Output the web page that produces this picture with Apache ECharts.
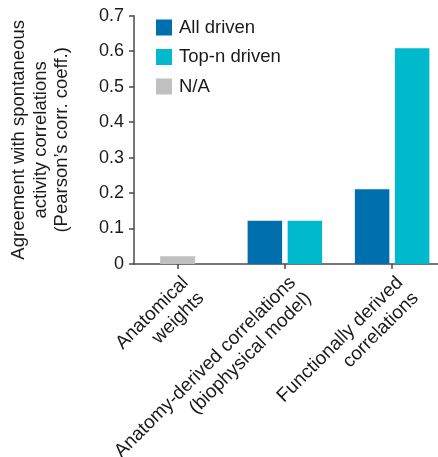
<!DOCTYPE html>
<html>
<head>
<meta charset="utf-8">
<script src="https://cdn.jsdelivr.net/npm/echarts@6/dist/echarts.min.js"></script>
<style>
html,body{margin:0;padding:0;background:#fff;}
#chart{width:438px;height:457px;}
</style>
</head>
<body>
<div id="chart"></div>
<script>
var categories = ['Anatomical\nweights', 'Anatomy-derived correlations\n(biophysical model)', 'Functionally derived\ncorrelations'];
var allDriven = [null, 0.122, 0.211];
var topNDriven = [null, 0.122, 0.608];
var naValues = [0.022, null, null];
var yTicks = [0, 0.1, 0.2, 0.3, 0.4, 0.5, 0.6, 0.7];
var yName = 'Agreement with spontaneous\nactivity correlations\n(Pearson\u2019s corr. coeff.)';

var FONT = '"Liberation Sans", Arial, Helvetica, sans-serif';
var AXIS = '#4a4a4a';
var TXT = '#1a1a1a';

var chart = echarts.init(document.getElementById('chart'), null, {renderer: 'canvas'});
chart.setOption({
  animation: false,
  backgroundColor: '#ffffff',
  textStyle: {fontFamily: FONT},
  legend: {
    orient: 'vertical',
    left: 156,
    top: 18,
    padding: 0,
    icon: 'rect',
    itemWidth: 16,
    itemHeight: 16,
    itemGap: 10.5,
    data: ['All driven', 'Top-n driven', 'N/A'],
    textStyle: {fontSize: 18.5, color: TXT, fontFamily: FONT, padding: [0, 0, 0, 2]}
  },
  grid: [
    {left: 124, width: 321.75, top: 15.7, bottom: 193, containLabel: false, outerBoundsMode: 'none'},
    {left: 134, right: 0, top: 15.7, bottom: 193, containLabel: false, outerBoundsMode: 'none'}
  ],
  xAxis: [
    {
      type: 'category', gridIndex: 0, data: categories,
      axisLine: {show: false},
      axisTick: {show: true, alignWithLabel: true, length: 5, lineStyle: {color: AXIS, width: 1.5}},
      axisLabel: {
        interval: 0, rotate: 45, margin: 8, align: 'right', verticalAlign: 'top',
        fontSize: 19, lineHeight: 22, color: TXT, fontFamily: FONT, hideOverlap: false
      },
      splitLine: {show: false}
    },
    {
      type: 'category', gridIndex: 0, data: categories, show: false
    },
    {
      type: 'value', gridIndex: 1, min: 0, max: 1,
      axisLine: {show: true, onZero: false, lineStyle: {color: AXIS, width: 1.5}},
      axisTick: {show: false}, axisLabel: {show: false}, splitLine: {show: false}
    }
  ],
  yAxis: [
    {
      type: 'value', gridIndex: 0, min: 0, max: 0.7, show: false, splitLine: {show: false}
    },
    {
      type: 'value', gridIndex: 1, min: yTicks[0], max: yTicks[yTicks.length - 1], interval: 0.1,
      name: yName, nameLocation: 'middle', nameRotate: 90, nameGap: 61,
      nameTextStyle: {fontSize: 18.5, lineHeight: 21.5, color: TXT, fontFamily: FONT, align: 'center'},
      axisLine: {show: true, lineStyle: {color: AXIS, width: 1.5}},
      axisTick: {show: true, length: 5, lineStyle: {color: AXIS, width: 1.5}},
      axisLabel: {
        margin: 10, fontSize: 18, color: TXT, fontFamily: FONT,
        formatter: function (v) { return String(Math.round(v * 10) / 10); }
      },
      splitLine: {show: false}
    }
  ],
  series: [
    {
      name: 'All driven', type: 'bar', xAxisIndex: 0, yAxisIndex: 0,
      data: allDriven, barWidth: 34.5, barGap: '16%',
      itemStyle: {color: '#006fad'}
    },
    {
      name: 'Top-n driven', type: 'bar', xAxisIndex: 0, yAxisIndex: 0,
      data: topNDriven, barWidth: 34.5, barGap: '16%',
      itemStyle: {color: '#00b9cd'}
    },
    {
      name: 'N/A', type: 'bar', xAxisIndex: 1, yAxisIndex: 0,
      data: naValues, barWidth: 35,
      itemStyle: {color: '#c0c0c0'}
    }
  ]
});
</script>
</body>
</html>
